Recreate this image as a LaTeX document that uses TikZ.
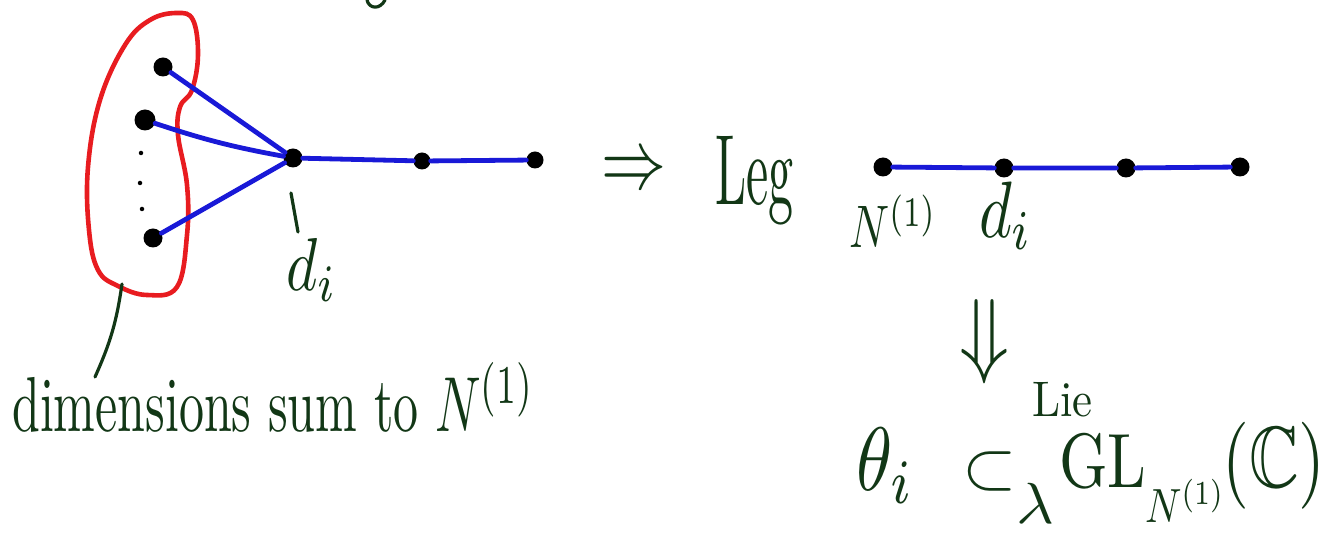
\documentclass[tikz,border=0pt]{standalone}
\usepackage{amssymb}
\usepackage{graphicx}
\definecolor{ink}{RGB}{18,55,22}
\definecolor{bl}{RGB}{25,25,215}
\definecolor{rd}{RGB}{232,28,32}
\begin{document}
\begin{tikzpicture}[x=1pt,y=-1pt,
  dot/.style={circle,fill=black,inner sep=0pt,minimum size=19pt},
  sdot/.style={circle,fill=black,inner sep=0pt,minimum size=4.5pt},
  edge/.style={draw=bl,line width=4.8pt,line cap=round},
  blob/.style={draw=rd,line width=4.6pt},
  lbl/.style={text=ink,inner sep=0pt},
  lead/.style={draw=ink,line width=3.2pt,line cap=round}]
\useasboundingbox (0,0) rectangle (1334,534);
% red set
\draw[blob] plot[smooth cycle, tension=0.65] coordinates {
 (177,13) (193,20) (198,55) (192,90) (180,107) (178,135) (187,185)
 (187,235) (177,287) (147,295) (118,286) (98,270) (89,230) (88,167)
 (100,100) (125,45) (150,20)};
% left star graph
\node[dot] (a1) at (163,67) {};
\node[dot,minimum width=17pt,minimum height=21pt] (a2) at (145,120) {};
\node[sdot] (s1) at (141,153) {};
\node[sdot] (s2) at (140,183) {};
\node[sdot] (s3) at (142,209) {};
\node[dot] (a3) at (153,238) {};
\node[dot] (c) at (293,158) {};
\node[dot,minimum size=17pt] (b1) at (422,161) {};
\node[dot,minimum size=17pt] (b2) at (535,160) {};
\draw[edge] (a1) -- (c);
\draw[edge] (a2) to[bend right=4] (c);
\draw[edge] (a3) -- (c);
\draw[edge] (c) -- (b1) -- (b2);
% leaders
\coordinate (l1a) at (122,284);
\coordinate (l1b) at (95,377);
\draw[lead] (l1a) to[bend left=8] (l1b);
\coordinate (l2a) at (291,193);
\coordinate (l2b) at (298,232);
\draw[lead] (l2a) -- (l2b);
% fragment at top
\draw[lead] (367,0) .. controls (369,9) and (380,10) .. (385,0);
% labels left
\node[lbl,anchor=base west] (dim) at (12,432) {\scalebox{5}[7.8]{dimensions sum to $N^{(1)}$}};
\node[lbl] (di1) at (312,270) {\scalebox{6}[7.5]{$d_i$}};
% implication
\node[lbl] (imp) at (634,173) {\scalebox{6.5}[8.5]{$\Rightarrow$}};
\node[lbl,anchor=base west] (leg) at (715,205) {\scalebox{5}[10]{Leg}};
% right chain
\node[dot] (r1) at (883,167) {};
\node[dot] (r2) at (1004,168) {};
\node[dot] (r3) at (1126,168) {};
\node[dot] (r4) at (1240,167) {};
\draw[edge] (r1) -- (r2) -- (r3) -- (r4);
\node[lbl,anchor=base west] (n1) at (849,248) {\scalebox{4.4}[6]{$N^{(1)}$}};
\node[lbl,anchor=base west] (di2) at (979,238) {\scalebox{6.3}[8]{$d_i$}};
% down implication
\node[lbl] (dimp) at (985,342) {\scalebox{8.2}[9.5]{$\Downarrow$}};
\node[lbl,anchor=base west] (lie) at (1032,417) {\scalebox{4.5}[5]{Lie}};
\node[lbl,anchor=base west] (th) at (856,490) {\scalebox{7.3}[9]{$\theta_i$}};
\node[lbl] (sub) at (990,472) {\scalebox{7}[6.8]{$\subset$}};
\node[lbl] (lam) at (1035,503) {\scalebox{6.5}[5.8]{$\lambda$}};
\node[lbl,anchor=base west] (gl) at (1059,487) {\scalebox{6.2}[7.7]{GL}};
\node[lbl,anchor=base west] (glsub) at (1145,522) {\scalebox{4}[4.8]{$N^{(1)}$}};
\node[lbl,anchor=base west] (cc) at (1222,487) {\scalebox{6.9}[8.7]{$(\mathbb{C})$}};
\end{tikzpicture}
\end{document}
